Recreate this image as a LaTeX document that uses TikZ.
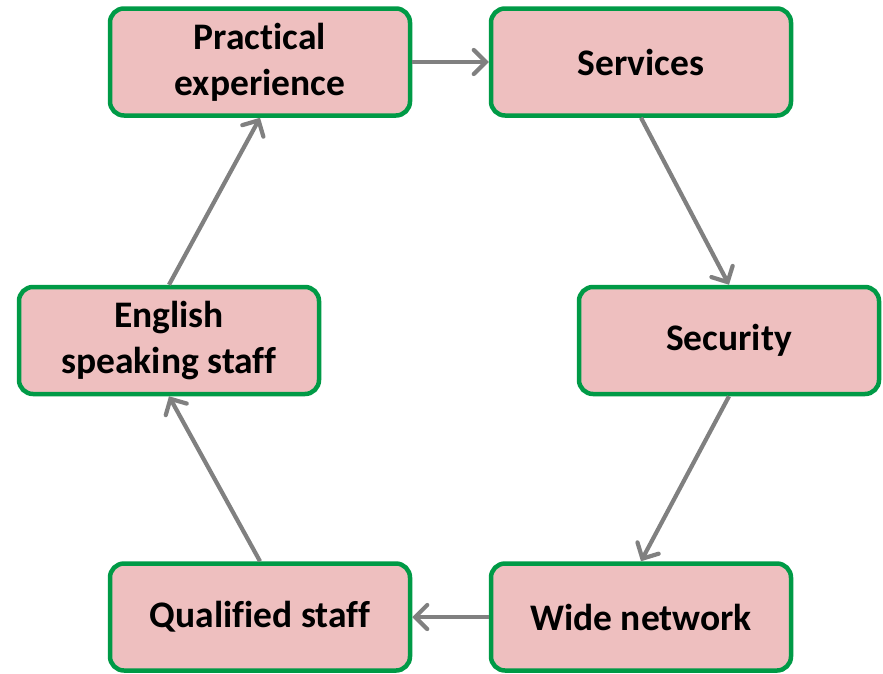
\documentclass[tikz,border=0pt]{standalone}
\usepackage{fontspec}
\setmainfont{Carlito}[Ligatures=NoCommon]
\usetikzlibrary{arrows.meta}
\definecolor{boxfill}{HTML}{EEBFBF}
\definecolor{boxline}{HTML}{009A46}
\definecolor{arr}{HTML}{808080}
\begin{document}
\begin{tikzpicture}[x=1pt,y=-1pt,
  box/.style={draw=boxline,fill=boxfill,line width=4.5pt,rounded corners=14pt,
    minimum width=300pt,minimum height=107pt,inner sep=0pt,align=center,
    font=\fontsize{37.5}{46}\selectfont\bfseries},
  conn/.style={draw=arr,line width=4.2pt,-{Straight Barb[length=12pt,width=24pt,line cap=round]}}]
\useasboundingbox (0,0) rectangle (883,673);
\node[box] (pe) at (260,62) {Practical\\experience};
\node[box] (sv) at (641,62) {Services};
\node[box] (se) at (729,340.5) {Security};
\node[box] (en) at (169,340.5) {English\\speaking staff};
\node[box] (wn) at (641,617) {Wide network};
\node[box] (qs) at (260,617) {Qualified staff};
\draw[conn] (pe.east) -- (sv.west);
\draw[conn] (sv.south) -- (se.north);
\draw[conn] (se.south) -- (wn.north);
\draw[conn] (wn.west) -- (qs.east);
\draw[conn] (qs.north) -- (en.south);
\draw[conn] (en.north) -- (pe.south);
\end{tikzpicture}
\end{document}
